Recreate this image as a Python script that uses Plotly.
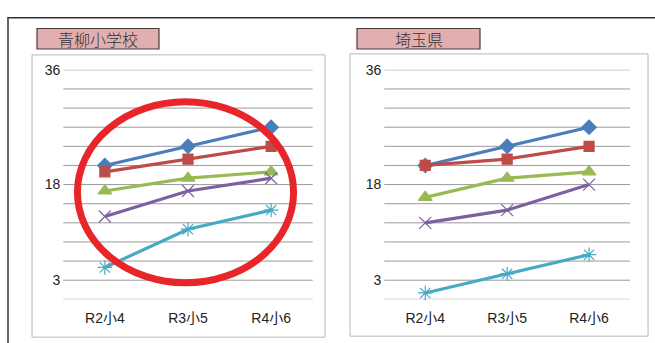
import plotly.graph_objects as go

W, H = 655, 343

categories = ["R2小4", "R3小5", "R4小6"]
panel_titles = ["青柳小学校", "埼玉県"]

# left panel: 青柳小学校
school_blue = [21.0, 24.0, 27.0]
school_red = [20.0, 22.0, 24.0]
school_green = [17.0, 19.0, 20.0]
school_purple = [13.0, 17.0, 19.0]
school_cyan = [5.0, 11.0, 14.0]

# right panel: 埼玉県
pref_blue = [21.0, 24.0, 27.0]
pref_red = [21.0, 22.0, 24.0]
pref_green = [16.0, 19.0, 20.0]
pref_purple = [12.0, 14.0, 18.0]
pref_cyan = [1.0, 4.0, 7.0]

y_tickvals = [3, 18, 36]
y_ticktext = ["3", "18", "36"]

series_styles = [
    dict(color="#4a7ebb", symbol="diamond", size=11),
    dict(color="#be4b48", symbol="square", size=10),
    dict(color="#98b954", symbol="triangle-up", size=12),
    dict(color="#7d60a0", symbol="x-thin-open", size=12),
    dict(color="#46aac5", symbol="asterisk-open", size=12),
]

def px_x(p):
    return p / W

def px_y(p):
    return 1 - p / H

fig = go.Figure()

panels = [
    ([school_blue, school_red, school_green, school_purple, school_cyan], "x", "y"),
    ([pref_blue, pref_red, pref_green, pref_purple, pref_cyan], "x2", "y2"),
]
for data, xa, ya in panels:
    for vals, st in zip(data, series_styles):
        fig.add_trace(go.Scatter(
            x=categories, y=vals, xaxis=xa, yaxis=ya, mode="lines+markers",
            line=dict(color=st["color"], width=3.2),
            marker=dict(symbol=st["symbol"], size=st["size"], color=st["color"],
                        line=dict(color=st["color"], width=1.2)),
            showlegend=False, cliponaxis=False,
        ))

axis_common_y = dict(range=[0, 36], tickmode="array", tickvals=y_tickvals, ticktext=y_ticktext,
                     showgrid=False, zeroline=False, showline=False, ticks="",
                     ticklabelstandoff=2,
                     tickfont=dict(family="Liberation Sans, Arial", size=14, color="#222"),
                     fixedrange=True)
axis_common_x = dict(range=[-0.5, 2.5], showgrid=False, zeroline=False, showline=False,
                     ticks="", ticklabelstandoff=9,
                     tickfont=dict(family="Liberation Sans, Noto Sans CJK JP", size=14, color="#222"),
                     fixedrange=True)

fig.update_layout(
    width=W, height=H, margin=dict(l=0, r=0, t=0, b=0),
    paper_bgcolor="white", plot_bgcolor="white",
    xaxis=dict(domain=[px_x(63.3), px_x(312.7)], anchor="y", **axis_common_x),
    yaxis=dict(domain=[px_y(298.3), px_y(63.3)], anchor="x", **axis_common_y),
    xaxis2=dict(domain=[px_x(384.3), px_x(630)], anchor="y2", **axis_common_x),
    yaxis2=dict(domain=[px_y(298.3), px_y(63.3)], anchor="x2", **axis_common_y),
)

shapes = []
# outer border
shapes.append(dict(type="rect", xref="paper", yref="paper", x0=px_x(8), x1=px_x(700),
                   y0=px_y(400), y1=px_y(10), line=dict(color="#333", width=1.5), layer="below"))
# chart frames
for (x0, x1, y0, y1) in [(32, 325, 48, 337), (350, 648, 47, 336)]:
    shapes.append(dict(type="rect", xref="paper", yref="paper", x0=px_x(x0), x1=px_x(x1),
                       y0=px_y(y1), y1=px_y(y0), line=dict(color="#b8b8b8", width=1),
                       fillcolor="white", layer="below"))

# gridlines every 3 units, axis baseline and category ticks
for xr, yr in [("x", "y"), ("x2", "y2")]:
    for v in range(3, 37, 3):
        shapes.append(dict(type="line", xref=xr + " domain", yref=yr, x0=0, x1=1, y0=v, y1=v,
                           line=dict(color="#9a9a9a", width=1), layer="below"))
    shapes.append(dict(type="line", xref=xr + " domain", yref=yr, x0=0, x1=1, y0=0, y1=0,
                       line=dict(color="#9a9a9a", width=1), layer="below"))
    for b in [-0.5, 0.5, 1.5, 2.5]:
        shapes.append(dict(type="line", xref=xr, yref=yr, x0=b, x1=b, y0=0, y1=-0.6,
                           line=dict(color="#9a9a9a", width=1), layer="below"))

# title boxes
title_boxes = [(37, 159, 21, 42), (357, 480, 21, 42)]
annotations = []
for (x0, x1, y0, y1), t in zip(title_boxes, panel_titles):
    shapes.append(dict(type="rect", xref="paper", yref="paper", x0=px_x(x0), x1=px_x(x1),
                       y0=px_y(y1), y1=px_y(y0), line=dict(color="#4a3a3a", width=1.2),
                       fillcolor="#e2afb1"))
    annotations.append(dict(xref="paper", yref="paper", x=px_x((x0 + x1) / 2), y=px_y((y0 + y1) / 2),
                            text=t, showarrow=False, xanchor="center", yanchor="middle",
                            font=dict(family="Noto Sans CJK JP", size=16, color="#333", weight=300)))

# red ellipse highlight on left panel
shapes.append(dict(type="circle", xref="x", yref="y", x0=-0.33, x1=2.27, y0=2.6, y1=31.0,
                   line=dict(color="#e8262a", width=7), layer="above"))

fig.update_layout(shapes=shapes, annotations=annotations)

fig.write_html("out.html")
